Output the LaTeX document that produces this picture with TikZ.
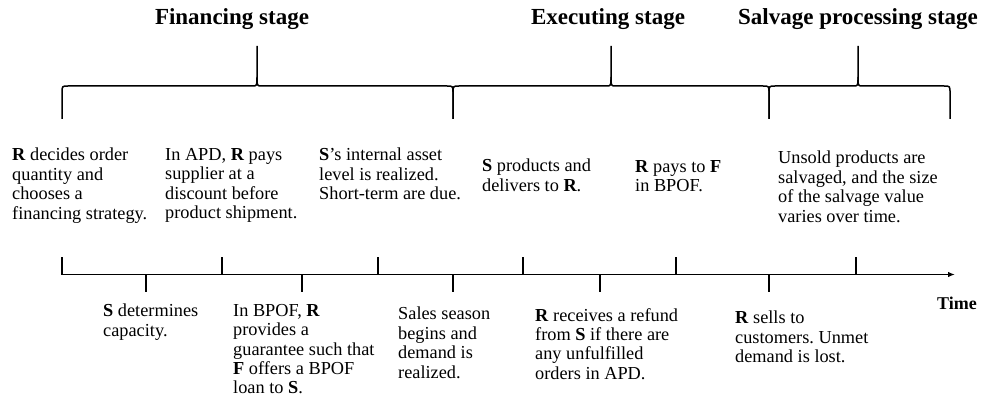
\documentclass[tikz,border=0pt]{standalone}
\usepackage{fontspec}
\setmainfont{Liberation Serif}
\usetikzlibrary{arrows.meta}
\frenchspacing
\begin{document}
\begin{tikzpicture}[x=1pt,y=-1pt,
  ln/.style={line width=1.5pt},
  txt/.style={anchor=north west,inner sep=0pt,align=left,font=\fontsize{18.3}{19.4}\selectfont},
  ttl/.style={anchor=base,inner sep=0pt,font=\fontsize{23}{26}\selectfont\bfseries}]
\useasboundingbox (0,0) rectangle (987,414);
% titles
\node[ttl] (t1) at (232,25) {Financing stage};
\node[ttl] (t2) at (608,25) {Executing stage};
\node[ttl] (t3) at (858,25) {Salvage processing stage};
% braces
\foreach \a/\t/\b in {62/257/453, 453/611/769, 769/858/950}{
  \draw[ln] (\a,119) -- (\a,93) .. controls (\a,86) .. (\a+6,86) -- (\t-5,86)
     .. controls (\t,86) .. (\t,77) -- (\t,46);
  \draw[ln] (\t,77) .. controls (\t,86) .. (\t+5,86) -- (\b-6,86)
     .. controls (\b,86) .. (\b,93) -- (\b,119);
}
% axis
\coordinate (s) at (62,274.5);
\coordinate (e) at (955,274.5);
\draw[ln,-{Latex[length=7pt,width=5.5pt]}] (s) -- (e);
\foreach \x in {62,222,378,523,676,856} \draw[ln] (\x,274.5) -- (\x,257);
\foreach \x in {146,302,453,600,769} \draw[ln] (\x,274.5) -- (\x,292);
% upper texts
\node[txt] (a1) at (12,148) {\textbf{R} decides order\\quantity and\\chooses a\\financing strategy.};
\node[txt] (a2) at (165,148) {In APD, \textbf{R} pays\\supplier at a\\discount before\\product shipment.};
\node[txt] (a3) at (319,148) {\textbf{S}’s internal asset\\level is realized.\\Short-term are due.};
\node[txt] (a4) at (482,159) {\textbf{S} products and\\delivers to \textbf{R}.};
\node[txt] (a5) at (635,160) {\textbf{R} pays to \textbf{F}\\in BPOF.};
\node[txt] (a6) at (778,151) {Unsold products are\\salvaged, and the size\\of the salvage value\\varies over time.};
% lower texts
\node[txt] (b1) at (103,304) {\textbf{S} determines\\capacity.};
\node[txt] (b2) at (233,304) {In BPOF, \textbf{R}\\provides a\\guarantee such that\\\textbf{F} offers a BPOF\\loan to \textbf{S}.};
\node[txt] (b3) at (398,307) {Sales season\\begins and\\demand is\\realized.};
\node[txt] (b4) at (535,308) {\textbf{R} receives a refund\\from \textbf{S} if there are\\any unfulfilled\\orders in APD.};
\node[txt] (b5) at (735,311) {\textbf{R} sells to\\customers. Unmet\\demand is lost.};
\node[anchor=base west,inner sep=0pt,font=\fontsize{18}{20}\selectfont\bfseries] (tm) at (937,309) {Time};
\end{tikzpicture}
\end{document}
